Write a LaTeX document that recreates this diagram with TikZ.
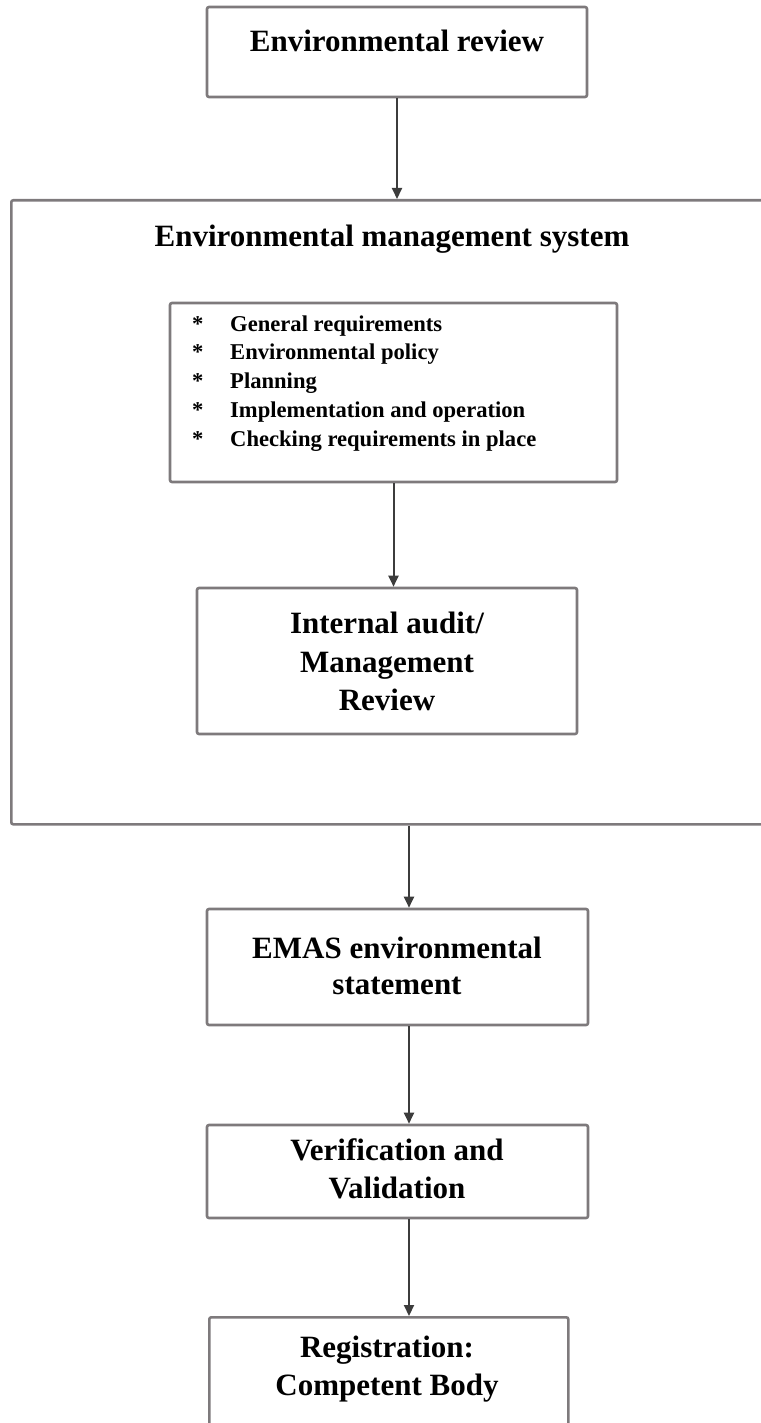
\documentclass[tikz,border=0pt]{standalone}
\usepackage{fontspec}
\setmainfont{Liberation Serif}
\usetikzlibrary{arrows.meta}
\definecolor{boxgray}{HTML}{7E7A7C}
\definecolor{arrowgray}{HTML}{3C3C3C}
\begin{document}
\begin{tikzpicture}[x=1pt,y=-1pt,
  box/.style={draw=boxgray, line width=2.6pt, rounded corners=2pt, inner sep=0pt},
  head/.style={font=\fontsize{31}{37}\selectfont\bfseries, inner sep=0pt, anchor=base},
  item/.style={font=\fontsize{22.6}{27}\selectfont\bfseries, inner sep=0pt, anchor=base west},
  flow/.style={draw=arrowgray, line width=2pt, -{Triangle[length=11pt,width=10pt]}}]
\useasboundingbox (0,0) rectangle (760,1423);

% Environmental review
\node[box, minimum width=380pt, minimum height=90pt] (rev) at (397,52) {};
\node[head] (revt) at (397,52) {Environmental review};

% Environmental management system (right side runs off the page)
\node[box, minimum width=800pt, minimum height=624pt, anchor=north west] (ems) at (10,199) {};
\node[head] (emst) at (392,247) {Environmental management system};

% list box
\node[box, minimum width=447pt, minimum height=179pt] (list) at (393.5,392.5) {};
\foreach \t [count=\i] in {General requirements, Environmental policy, Planning, Implementation and operation, Checking requirements in place} {
  \node[item] (star\i) at (192,{331+28.75*(\i-1)}) {*};
  \node[item] (it\i) at (230,{331+28.75*(\i-1)}) {\t};
}

% Internal audit
\node[box, minimum width=380pt, minimum height=146pt] (ia) at (387,661) {};
\node[head] (ia1) at (387,633) {Internal audit/};
\node[head] (ia2) at (387,672) {Management};
\node[head] (ia3) at (387,710) {Review};

% EMAS statement
\node[box, minimum width=381pt, minimum height=116pt] (emas) at (397.5,967) {};
\node[head] (emas1) at (397,958) {EMAS environmental};
\node[head] (emas2) at (397,994) {statement};

% Verification
\node[box, minimum width=381pt, minimum height=93pt] (ver) at (397.5,1171.5) {};
\node[head] (ver1) at (397,1160) {Verification and};
\node[head] (ver2) at (397,1198) {Validation};

% Registration (bottom runs off the page)
\node[box, minimum width=359pt, minimum height=200pt, anchor=north west] (reg) at (208,1316) {};
\node[head] (reg1) at (387,1357) {Registration:};
\node[head] (reg2) at (387,1395) {Competent Body};

% connectors
\coordinate (low) at (409,0);
\draw[flow] (rev.south) -- (rev.south |- ems.north);
\draw[flow] (list.south) -- (list.south |- ia.north);
\draw[flow] (low |- ems.south) -- (low |- emas.north);
\draw[flow] (low |- emas.south) -- (low |- ver.north);
\draw[flow] (low |- ver.south) -- (low |- reg.north);
\end{tikzpicture}
\end{document}
